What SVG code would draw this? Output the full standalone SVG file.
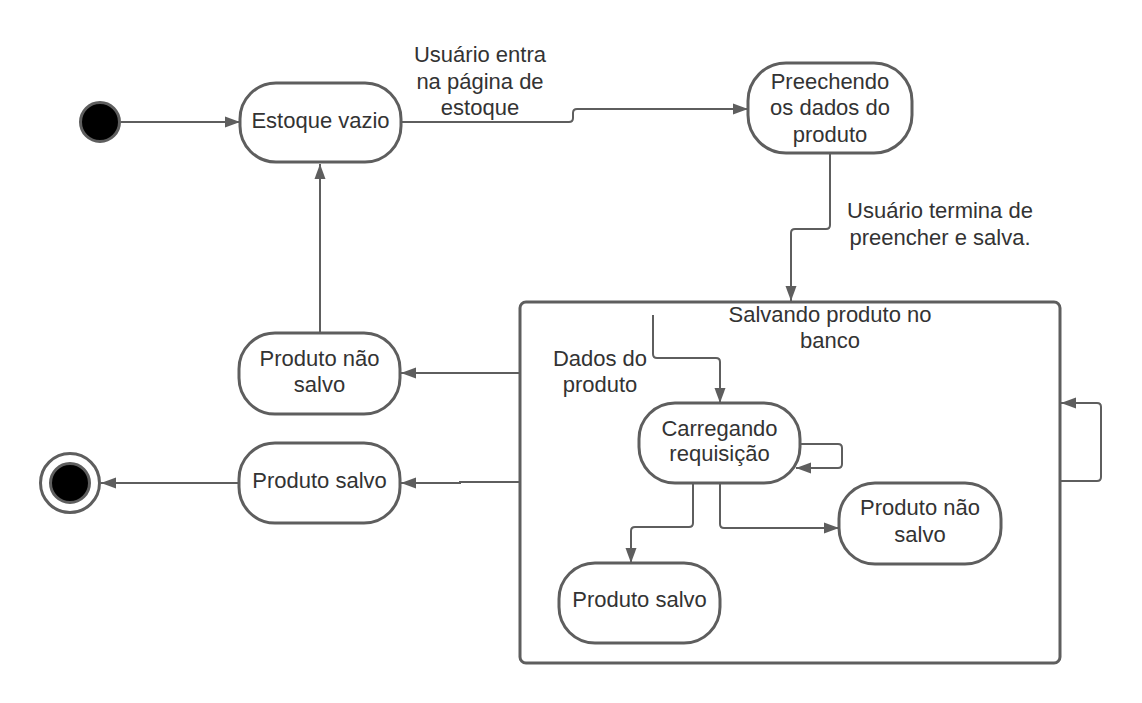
<svg xmlns="http://www.w3.org/2000/svg" width="1142" height="703" viewBox="0 0 1142 703">
<style>
.st{fill:#ffffff;stroke:#5e5e5e;stroke-width:3}
.box{fill:none;stroke:#5e5e5e;stroke-width:3}
.t{font-family:"Liberation Sans",Arial,sans-serif;font-size:22px;fill:#333333;text-anchor:middle}
.c{fill:none;stroke:#5e5e5e;stroke-width:2;marker-end:url(#ah)}
</style>
<defs>
<marker id="ah" markerUnits="userSpaceOnUse" markerWidth="16" markerHeight="12" viewBox="0 0 16 12" refX="15" refY="6" orient="auto">
<path d="M0,0.5 L15,6 L0,11.5 Z" fill="#5e5e5e"/>
</marker>
</defs>
<rect width="1142" height="703" fill="#ffffff"/>
<g id="salvando">
<rect class="box" x="520" y="302" width="540" height="361" rx="6" ry="6"/>
<text class="t" x="830" y="322">Salvando produto no</text>
<text class="t" x="830" y="348">banco</text>
</g>
<g id="connectors">
<path class="c" d="M121,122 H240"/>
<path class="c" d="M401,122 H569 Q573,122 573,118 V113 Q573,109 577,109 H748"/>
<path class="c" d="M830,153 V225 Q830,229 826,229 H795 Q791,229 791,233 V301"/>
<path class="c" d="M653,315 V354 Q653,358 657,358 H716 Q720,358 720,362 V403"/>
<path class="c" d="M800,444 H838 Q842,444 842,448 V464 Q842,468 838,468 H796"/>
<path class="c" d="M693,484 V523 Q693,527 689,527 H635 Q631,527 631,531 V563"/>
<path class="c" d="M720,484 V524 Q720,528 724,528 H839"/>
<path class="c" d="M1060,481 H1097 Q1101,481 1101,477 V407 Q1101,403 1097,403 H1061"/>
<path class="c" d="M520,373 H401"/>
<path class="c" d="M520,482 H460 V483 H401"/>
<path class="c" d="M320,333 V164"/>
<path class="c" d="M239,483 H101"/>
</g>
<g id="start">
<circle cx="100" cy="122" r="19.5" fill="#000000" stroke="#5e5e5e" stroke-width="3"/>
</g>
<g id="estoque-vazio">
<rect class="st" x="240" y="83" width="161" height="79" rx="36" ry="36"/>
<text class="t" x="320.5" y="128">Estoque vazio</text>
</g>
<g id="label-entra">
<text class="t" x="480" y="62">Usuário entra</text>
<text class="t" x="480" y="88.5">na página de</text>
<text class="t" x="480" y="115">estoque</text>
</g>
<g id="preenchendo">
<rect class="st" x="748" y="63" width="164" height="90" rx="38" ry="38"/>
<text class="t" x="830" y="88.5">Preechendo</text>
<text class="t" x="830" y="115">os dados do</text>
<text class="t" x="830" y="141.5">produto</text>
</g>
<g id="label-termina">
<text class="t" x="940" y="218">Usuário termina de</text>
<text class="t" x="940" y="244.5">preencher e salva.</text>
</g>
<g id="label-dados">
<text class="t" x="600" y="366">Dados do</text>
<text class="t" x="600" y="392">produto</text>
</g>
<g id="carregando">
<rect class="st" x="639" y="403" width="161" height="80" rx="36" ry="36"/>
<text class="t" x="719.5" y="435.5">Carregando</text>
<text class="t" x="719.5" y="461">requisição</text>
</g>
<g id="inner-nao-salvo">
<rect class="st" x="839" y="483" width="162" height="81" rx="36" ry="36"/>
<text class="t" x="920" y="515">Produto não</text>
<text class="t" x="920" y="541.5">salvo</text>
</g>
<g id="inner-salvo">
<rect class="st" x="559" y="563" width="161" height="80" rx="36" ry="36"/>
<text class="t" x="639.5" y="607">Produto salvo</text>
</g>
<g id="outer-nao-salvo">
<rect class="st" x="239" y="333" width="161" height="81" rx="36" ry="36"/>
<text class="t" x="319.5" y="365.5">Produto não</text>
<text class="t" x="319.5" y="392">salvo</text>
</g>
<g id="outer-salvo">
<rect class="st" x="239" y="443" width="161" height="80" rx="36" ry="36"/>
<text class="t" x="319.5" y="487.5">Produto salvo</text>
</g>
<g id="end">
<circle cx="70" cy="483" r="29.5" fill="#ffffff" stroke="#5e5e5e" stroke-width="3"/>
<circle cx="70" cy="483" r="19.5" fill="#000000" stroke="#5e5e5e" stroke-width="3"/>
</g>
</svg>
